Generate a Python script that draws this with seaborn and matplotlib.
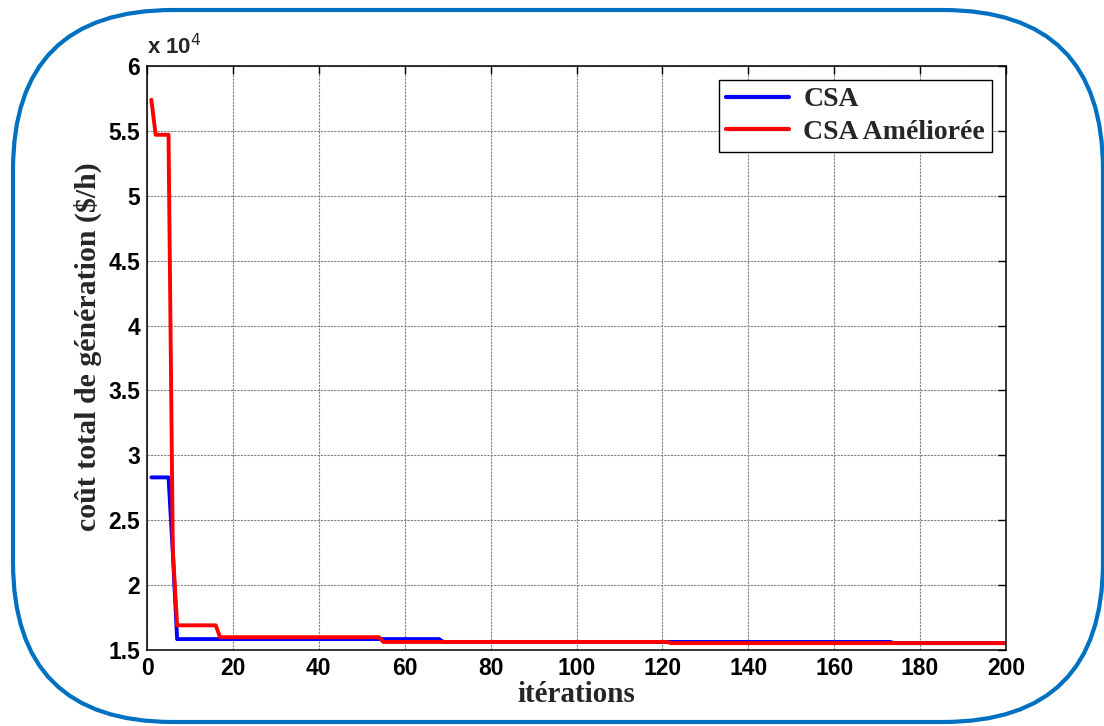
import numpy as np
import pandas as pd
import seaborn as sns
import matplotlib.pyplot as plt
from matplotlib.patches import FancyBboxPatch
from matplotlib.ticker import FuncFormatter

# breakpoints (iteration, total cost $/h)
csa_iter = [1, 5, 6, 7, 68, 69, 173, 174, 200]
csa_cost = [28300, 28300, 22500, 15840, 15840, 15620, 15620, 15530, 15530]

csa_am_iter = [1, 2, 5, 6, 7, 16, 17, 54, 55, 121, 122, 200]
csa_am_cost = [57400, 54700, 54700, 22700, 16900, 16900, 15985, 15985, 15620, 15620, 15530, 15530]

series_names = ["CSA", "CSA Améliorée"]
series_colors = ["#0000FF", "#FF0000"]

x_ticks = [0, 20, 40, 60, 80, 100, 120, 140, 160, 180, 200]
y_ticks = [15000, 20000, 25000, 30000, 35000, 40000, 45000, 50000, 55000, 60000]

df = pd.concat([
    pd.DataFrame({"it": csa_iter, "cost": csa_cost, "algo": series_names[0]}),
    pd.DataFrame({"it": csa_am_iter, "cost": csa_am_cost, "algo": series_names[1]}),
], ignore_index=True)

sns.set_theme(style="white")
plt.rcParams.update({
    'font.family': ['Liberation Sans', 'DejaVu Sans'],
    'axes.edgecolor': 'black',
    'xtick.color': 'black',
    'ytick.color': 'black',
})

fig = plt.figure(figsize=(11.04, 7.26), dpi=100)
ax = fig.add_axes([0.1332, 0.1047, 0.7780, 0.8044])

# rounded blue frame around the whole figure (inches)
frame = FancyBboxPatch((0.13, 0.04), 10.90, 7.12,
                       boxstyle="round,pad=0,rounding_size=1.6",
                       transform=fig.dpi_scale_trans, fill=False,
                       edgecolor="#0070C0", linewidth=3.0, zorder=0)
fig.patches.append(frame)

sns.lineplot(data=df, x="it", y="cost", hue="algo", palette=series_colors,
             hue_order=series_names, estimator=None, sort=False,
             linewidth=2.8, ax=ax)

ax.set_xlim(0, 200)
ax.set_ylim(15000, 60000)
ax.set_xticks(x_ticks)
ax.set_yticks(y_ticks)
ax.yaxis.set_major_formatter(FuncFormatter(lambda v, p: f"{v / 1e4:g}"))

ax.grid(True, which='major', linestyle=(0, (2, 1)), color='#808080', linewidth=0.8)
ax.set_axisbelow(True)

ax.tick_params(axis='both', direction='in', length=6, width=1.0,
               top=True, right=True, labelsize=16.5, pad=5)
for lab in ax.get_xticklabels() + ax.get_yticklabels():
    lab.set_fontweight('bold')
for spine in ax.spines.values():
    spine.set_color('black')
    spine.set_linewidth(1.1)

ax.set_xlabel("itérations", fontsize=21, fontweight='bold',
              family=['Liberation Serif', 'DejaVu Serif'], labelpad=0.5)
ax.set_ylabel("coût total de génération ($/h)", fontsize=21.5, fontweight='bold',
              family=['Liberation Serif', 'DejaVu Serif'])
ax.yaxis.set_label_coords(-0.053, 0.52)

fig.text(0.1332, 0.925, r"x 10$^{4}$", fontsize=16, fontweight='bold',
         ha='left', va='baseline')

leg = ax.legend(loc='upper right', frameon=True, fancybox=False,
                edgecolor='black', facecolor='white', framealpha=1,
                borderaxespad=0.5, handlelength=2.3, handletextpad=0.5,
                borderpad=0.25, labelspacing=0.25,
                prop={'family': ['Liberation Serif', 'DejaVu Serif'],
                      'weight': 'bold', 'size': 20})
leg.get_frame().set_linewidth(1.0)
for line in leg.get_lines():
    line.set_linewidth(3.0)

fig.savefig("out.png", dpi=100)
plt.close(fig)
